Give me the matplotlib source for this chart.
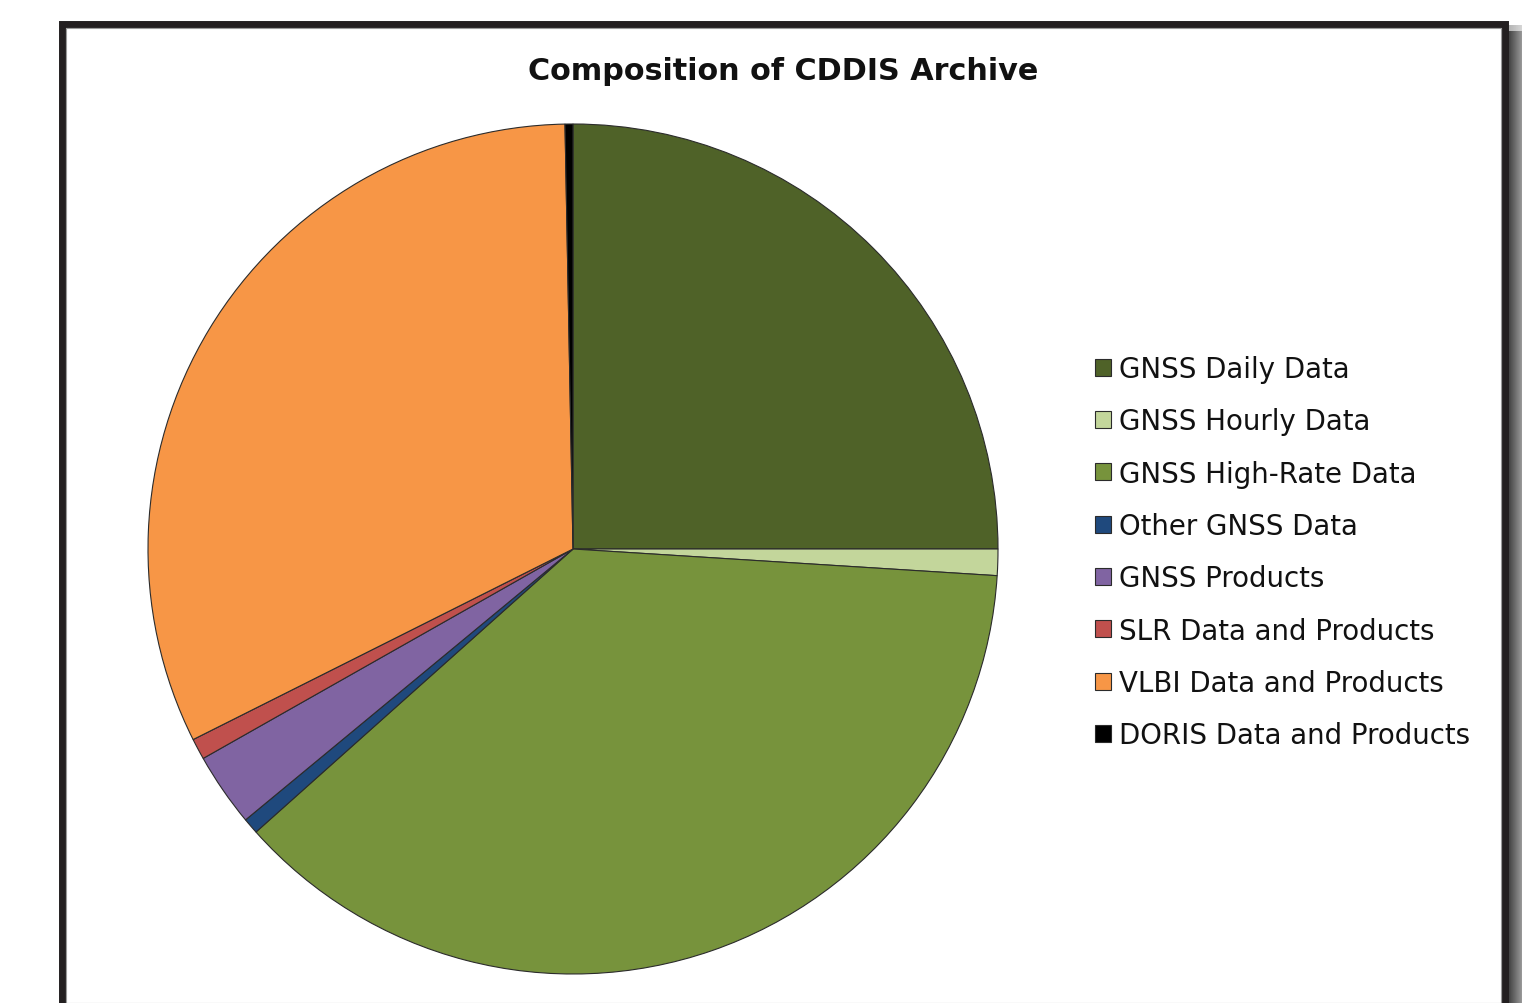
import numpy as np
import matplotlib
matplotlib.use('Agg')
import matplotlib.pyplot as plt
from matplotlib.patches import Rectangle

# archive share by data type (percent)
labels = ['GNSS Daily Data', 'GNSS Hourly Data', 'GNSS High-Rate Data',
          'Other GNSS Data', 'GNSS Products', 'SLR Data and Products',
          'VLBI Data and Products', 'DORIS Data and Products']
shares = [25.0, 1.0, 37.4, 0.6, 2.8, 0.8, 32.1, 0.3]
colors = ['#4f6228', '#c3d69b', '#77933c', '#1f497d',
          '#8064a2', '#c0504d', '#f79646', '#000000']

W, H = 1522, 1004
fig = plt.figure(figsize=(W / 100, H / 100), dpi=100)
fig.patch.set_facecolor('white')

def px(x0, y0, x1, y1):
    # pixel box (top-left origin) -> figure fraction rect
    return [x0 / W, 1 - y1 / H, (x1 - x0) / W, (y1 - y0) / H]

# drop shadow on the right of the frame
for i in range(15):
    a = 0.95 - 0.45 * i / 14
    fig.add_artist(Rectangle(((1507 + i) / W, 0), 1 / W, 1 - 32 / H,
                             transform=fig.transFigure,
                             facecolor='#2e2e2e', alpha=a, edgecolor='none'))
    # soft top end of the shadow
    fig.add_artist(Rectangle(((1507 + i) / W, 1 - 32 / H), 1 / W, 6 / H,
                             transform=fig.transFigure,
                             facecolor='#2e2e2e', alpha=a * 0.4, edgecolor='none'))

# frame
fig.add_artist(Rectangle((61.5 / W, -0.05), (1505 - 61.5) / W, 1.05 - 24.5 / H,
                         transform=fig.transFigure, facecolor='none',
                         edgecolor='#231f20', linewidth=5.0))
fig.add_artist(Rectangle((66 / W, 0.0), (1501 - 66) / W, 1 - 29 / H,
                         transform=fig.transFigure, facecolor='none',
                         edgecolor='#9a9a9a', linewidth=0.8))

ax = fig.add_axes(px(148, 125, 998, 975))
wedges, _ = ax.pie(shares, colors=colors, startangle=90, counterclock=False,
                   radius=1.0,
                   wedgeprops=dict(edgecolor='#2b2b2b', linewidth=0.8))
ax.set_xlim(-1.0, 1.0)
ax.set_ylim(-1.0, 1.0)
ax.set_aspect('equal')
ax.axis('off')

fig.text(783 / W, 1 - 72 / H, 'Composition of CDDIS Archive', ha='center',
         va='center', fontsize=21.8, fontweight='bold', color='#111111')

leg = fig.legend(wedges, labels, loc='upper left',
                 bbox_to_anchor=(1095 / W, 1 - 356 / H),
                 frameon=False, fontsize=19.9, borderpad=0, borderaxespad=0,
                 handlelength=0.58, handleheight=0.58, handletextpad=0.3,
                 labelspacing=0.88)
for t in leg.get_texts():
    t.set_color('#111111')

fig.savefig('out.png', dpi=100)
